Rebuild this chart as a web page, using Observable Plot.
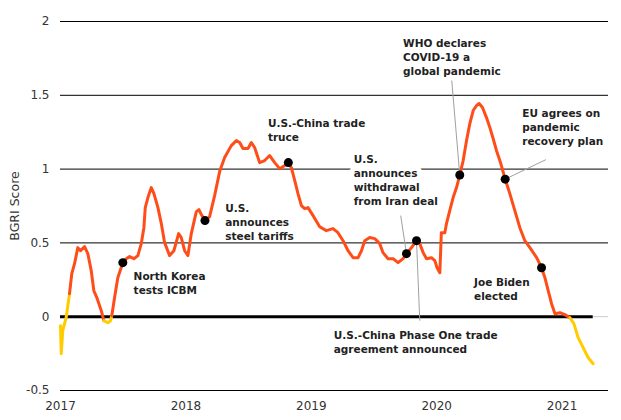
<!DOCTYPE html>
<html><head><meta charset="utf-8">
<script src="https://cdn.jsdelivr.net/npm/d3@7"></script>
<script src="https://cdn.jsdelivr.net/npm/@observablehq/plot@0.6"></script>
<style>body{margin:0;background:#fff;}</style>
</head><body><div id="chart"></div>
<script>
// ---- data ----
const years = [
  2017.000, 2017.006, 2017.018, 2017.045, 2017.072, 2017.090, 2017.112, 2017.138, 2017.160, 2017.192,
  2017.218, 2017.245, 2017.266, 2017.293, 2017.325, 2017.346, 2017.377, 2017.399, 2017.409, 2017.431,
  2017.457, 2017.497, 2017.524, 2017.551, 2017.585, 2017.617, 2017.644, 2017.665, 2017.676, 2017.697,
  2017.724, 2017.745, 2017.777, 2017.804, 2017.830, 2017.870, 2017.904, 2017.942, 2017.963, 2017.990,
  2018.016, 2018.043, 2018.083, 2018.104, 2018.123, 2018.152, 2018.189, 2018.229, 2018.269, 2018.309,
  2018.362, 2018.402, 2018.429, 2018.455, 2018.495, 2018.522, 2018.548, 2018.588, 2018.628, 2018.668,
  2018.708, 2018.748, 2018.788, 2018.817, 2018.841, 2018.868, 2018.894, 2018.921, 2018.947, 2018.974,
  2019.014, 2019.067, 2019.120, 2019.173, 2019.213, 2019.253, 2019.293, 2019.333, 2019.373, 2019.400,
  2019.426, 2019.466, 2019.506, 2019.546, 2019.572, 2019.612, 2019.652, 2019.692, 2019.732, 2019.759,
  2019.799, 2019.839, 2019.865, 2019.892, 2019.919, 2019.958, 2019.985, 2020.003, 2020.025, 2020.037,
  2020.065, 2020.078, 2020.104, 2020.131, 2020.158, 2020.184, 2020.211, 2020.238, 2020.264, 2020.291,
  2020.318, 2020.338, 2020.365, 2020.397, 2020.424, 2020.450, 2020.477, 2020.509, 2020.546, 2020.583,
  2020.623, 2020.663, 2020.703, 2020.743, 2020.797, 2020.836, 2020.863, 2020.889, 2020.916, 2020.943,
  2020.982, 2021.022, 2021.062, 2021.094, 2021.128, 2021.168, 2021.208, 2021.248
];
const values = [
  -0.061, -0.251, -0.095, -0.007, 0.156, 0.292, 0.359, 0.468, 0.447, 0.475,
  0.427, 0.312, 0.176, 0.122, 0.041, -0.027, -0.041, -0.027, 0.007, 0.129,
  0.264, 0.366, 0.393, 0.407, 0.393, 0.414, 0.495, 0.603, 0.739, 0.807,
  0.875, 0.834, 0.739, 0.631, 0.502, 0.414, 0.447, 0.563, 0.536, 0.447,
  0.414, 0.563, 0.712, 0.725, 0.692, 0.651, 0.678, 0.820, 0.983, 1.078,
  1.159, 1.193, 1.180, 1.139, 1.139, 1.180, 1.146, 1.044, 1.058, 1.092,
  1.044, 1.003, 1.024, 1.044, 1.010, 0.922, 0.834, 0.753, 0.732, 0.739,
  0.685, 0.610, 0.583, 0.597, 0.569, 0.515, 0.447, 0.400, 0.400, 0.447,
  0.515, 0.536, 0.529, 0.495, 0.434, 0.393, 0.393, 0.366, 0.393, 0.427,
  0.468, 0.515, 0.495, 0.434, 0.393, 0.400, 0.380, 0.332, 0.298, 0.569,
  0.569, 0.631, 0.719, 0.807, 0.875, 0.960, 1.058, 1.193, 1.308, 1.397,
  1.431, 1.444, 1.417, 1.349, 1.281, 1.207, 1.125, 1.044, 0.932, 0.834,
  0.719, 0.603, 0.515, 0.468, 0.400, 0.332, 0.264, 0.176, 0.088, 0.020,
  0.027, 0.014, -0.007, -0.047, -0.142, -0.210, -0.278, -0.319
];
const yTicks = [-0.5, 0, 0.5, 1, 1.5, 2];
const xTicks = [2017, 2018, 2019, 2020, 2021];
const eventLabels = [
  "North Korea\ntests ICBM",
  "U.S.\nannounces\nsteel tariffs",
  "U.S.-China trade\ntruce",
  "U.S.\nannounces\nwithdrawal\nfrom Iran deal",
  "U.S.-China Phase One trade\nagreement announced",
  "WHO declares\nCOVID-19 a\nglobal pandemic",
  "EU agrees on\npandemic\nrecovery plan",
  "Joe Biden\nelected"
];
const eventYears  = [2017.497, 2018.152, 2018.817, 2019.759, 2019.839, 2020.184, 2020.546, 2020.836];
const eventValues = [0.366, 0.651, 1.044, 0.427, 0.515, 0.960, 0.932, 0.332];
const yLabel = "BGRI Score";

// ---- layout (label placement, in data units) ----
const labelLayout = [
  {x: 2017.583, y: 0.300}, {x: 2018.314, y: 0.764}, {x: 2018.654, y: 1.340},
  {x: 2019.338, y: 1.092}, {x: 2019.179, y: -0.095}, {x: 2019.732, y: 1.883},
  {x: 2020.682, y: 1.408}, {x: 2020.298, y: 0.260}
];
const leaderLayout = [ // event index, far end
  {i: 5, x: 2020.120, y: 1.600},
  {i: 6, x: 2020.871, y: 1.064},
  {i: 3, x: 2019.713, y: 0.685},
  {i: 4, x: 2019.865, y: -0.027}
];

const ORANGE = "#ff4d1a", YELLOW = "#ffcc00";

const series = years.map((x, i) => ({x, y: values[i]}));
const segs = [];
let seg = 0, prev = null;
series.forEach(d => {
  const pos = d.y >= 0;
  if (prev !== null && pos !== prev) {
    segs.push({x: d.x, y: d.y, seg, pos: prev});
    seg++;
  }
  segs.push({x: d.x, y: d.y, seg, pos});
  prev = pos;
});

const events = eventLabels.map((t, i) => ({t, x: eventYears[i], y: eventValues[i], lx: labelLayout[i].x, ly: labelLayout[i].y}));
const leaders = leaderLayout.map(l => ({x1: eventYears[l.i], y1: eventValues[l.i], x2: l.x, y2: l.y}));

const labelStyle = {x: "lx", y: "ly", text: "t", textAnchor: "start", lineAnchor: "top", lineHeight: 1.33, fontSize: 10.5, fontWeight: "bold", dy: -2};

const chart = Plot.plot({
  width: 621, height: 420,
  marginLeft: 60, marginRight: 13, marginTop: 21, marginBottom: 30,
  style: {fontFamily: "'DejaVu Sans', Verdana, sans-serif", fontSize: "12px", color: "#333", background: "#fff", overflow: "visible"},
  x: {domain: [2017, 2021.37], ticks: xTicks, tickFormat: "d", tickSize: 0, tickPadding: 11, label: null},
  y: {domain: [-0.5, 2], ticks: yTicks, tickFormat: d => String(d), tickSize: 0, tickPadding: 11, label: null},
  marks: [
    Plot.ruleY([0], {stroke: "#cccccc", strokeWidth: 1}),
    Plot.ruleY(yTicks.filter(t => t !== 0), {stroke: "#000", strokeWidth: 1}),
    Plot.ruleY([0], {x1: years[0], x2: years[years.length - 1], stroke: "#000", strokeWidth: 3}),
    Plot.line(segs, {x: "x", y: "y", z: "seg", stroke: d => d.pos ? ORANGE : YELLOW, strokeWidth: 3, strokeLinejoin: "round", strokeLinecap: "round"}),
    Plot.link(leaders, {x1: "x1", y1: "y1", x2: "x2", y2: "y2", stroke: "#a0a0a0", strokeWidth: 1}),
    Plot.dot(events, {x: "x", y: "y", r: 4.5, fill: "#000"}),
    Plot.text(events.filter((d, i) => i === 3), {...labelStyle, fill: "#fff", stroke: "#fff", strokeWidth: 10}),
    Plot.text(events, {...labelStyle, fill: "#222"}),
    Plot.text([yLabel], {frameAnchor: "left", textAnchor: "middle", dx: -46, rotate: -90, fontSize: 12.5, fill: "#333"})
  ]
});
document.getElementById("chart").appendChild(chart);
</script>
</body></html>
